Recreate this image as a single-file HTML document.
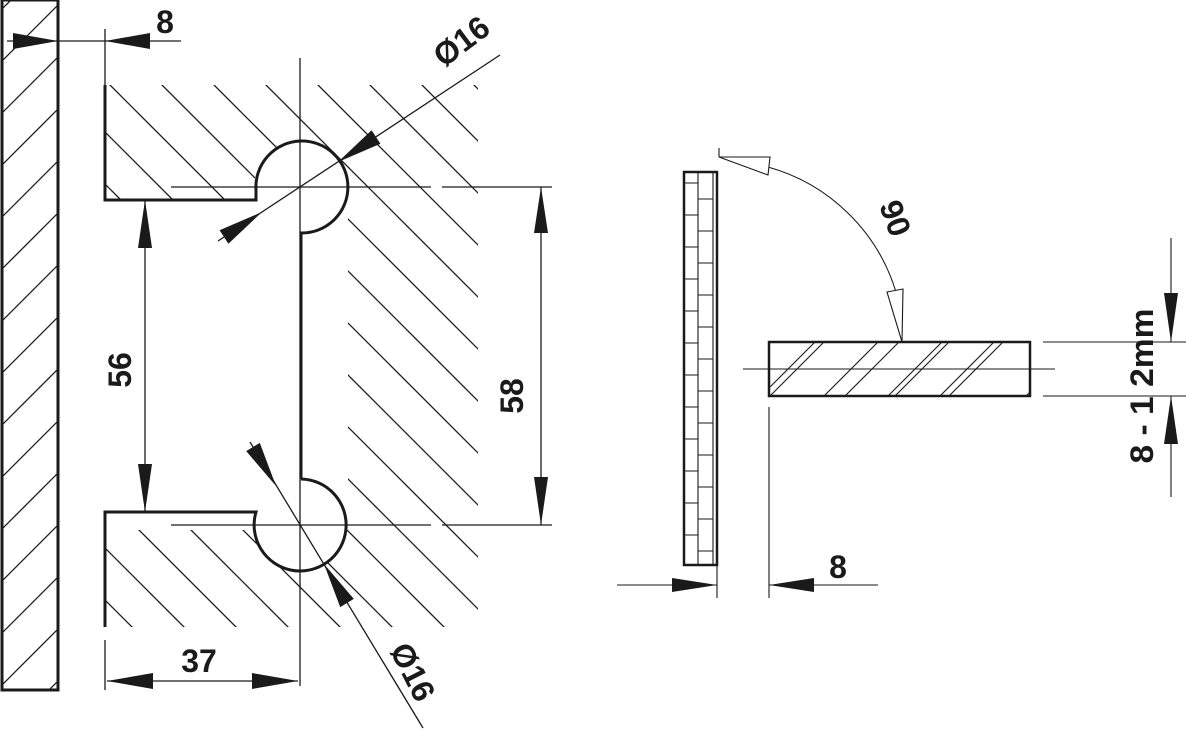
<!DOCTYPE html>
<html><head><meta charset="utf-8"><style>html,body{margin:0;padding:0;background:#fff;overflow:hidden;width:1186px;height:730px}svg{display:block}text{font-family:"Liberation Sans",sans-serif;font-weight:bold;fill:#1a1a1a}</style></head>
<body>
<svg width="1186" height="730" viewBox="0 0 1186 730" xmlns="http://www.w3.org/2000/svg">
<defs>
<clipPath id="plate"><rect x="2" y="0" width="56" height="690"/></clipPath>
<clipPath id="blk"><path d="M105 85H478V200H105Z M348 85H478V627H348Z M105 530H478V627H105Z"/></clipPath>
<clipPath id="bar"><rect x="769" y="342" width="261" height="54"/></clipPath>
</defs>
<g stroke="#1a1a1a" fill="none">
<g clip-path="url(#plate)" stroke-width="1.3">
<line x1="11" y1="0" x2="-730" y2="741"/><line x1="63" y1="0" x2="-730" y2="793"/>
<line x1="115" y1="0" x2="-615" y2="730"/><line x1="167" y1="0" x2="-563" y2="730"/>
<line x1="219" y1="0" x2="-511" y2="730"/><line x1="271" y1="0" x2="-459" y2="730"/>
<line x1="323" y1="0" x2="-407" y2="730"/><line x1="375" y1="0" x2="-355" y2="730"/>
<line x1="427" y1="0" x2="-303" y2="730"/><line x1="479" y1="0" x2="-251" y2="730"/>
<line x1="531" y1="0" x2="-199" y2="730"/><line x1="583" y1="0" x2="-147" y2="730"/>
<line x1="635" y1="0" x2="-95" y2="730"/><line x1="687" y1="0" x2="-43" y2="730"/>
<line x1="739" y1="0" x2="9" y2="730"/><line x1="791" y1="0" x2="61" y2="730"/>
</g>
<rect x="2" y="0" width="56" height="690" stroke-width="3"/>
<g clip-path="url(#blk)" stroke-width="1.3">
<line x1="-495" y1="0" x2="235" y2="730"/><line x1="-443" y1="0" x2="287" y2="730"/>
<line x1="-391" y1="0" x2="339" y2="730"/><line x1="-339" y1="0" x2="391" y2="730"/>
<line x1="-287" y1="0" x2="443" y2="730"/><line x1="-235" y1="0" x2="495" y2="730"/>
<line x1="-183" y1="0" x2="547" y2="730"/><line x1="-131" y1="0" x2="599" y2="730"/>
<line x1="-79" y1="0" x2="651" y2="730"/><line x1="-27" y1="0" x2="703" y2="730"/>
<line x1="25" y1="0" x2="755" y2="730"/><line x1="77" y1="0" x2="807" y2="730"/>
<line x1="129" y1="0" x2="859" y2="730"/><line x1="181" y1="0" x2="911" y2="730"/>
<line x1="233" y1="0" x2="963" y2="730"/><line x1="285" y1="0" x2="1015" y2="730"/>
<line x1="337" y1="0" x2="1067" y2="730"/><line x1="389" y1="0" x2="1119" y2="730"/>
</g>
<circle cx="300" cy="187" r="46" fill="#fff" stroke="none"/>
<circle cx="300" cy="525" r="46" fill="#fff" stroke="none"/>
<rect x="302" y="233" width="44" height="246" fill="#fff" stroke="none"/>
<g stroke-width="1.3">
<line x1="300" y1="58" x2="300" y2="686"/>
<line x1="171" y1="187" x2="431" y2="187"/><line x1="442" y1="187" x2="552" y2="187"/>
<line x1="171" y1="525" x2="431" y2="525"/><line x1="442" y1="525" x2="552" y2="525"/>
<line x1="105" y1="29" x2="105" y2="85"/><line x1="105" y1="640" x2="105" y2="690"/>
</g>
<path d="M105 85V200H256V190A46 46 0 1 1 301 233V479" stroke-width="3"/>
<path d="M105 627V512H256A46 46 0 1 0 301 479" stroke-width="3"/>
<g stroke-width="1.3">
<line x1="7" y1="41" x2="181" y2="41"/>
<line x1="145" y1="200" x2="145" y2="512"/>
<line x1="541" y1="187" x2="541" y2="525"/>
<line x1="107" y1="681" x2="298" y2="681"/>
<line x1="218" y1="241" x2="500" y2="55"/>
<line x1="250" y1="442" x2="423" y2="728"/>
</g>
</g>
<g fill="#1a1a1a">
<polygon points="58,41 13,33 13,49"/><polygon points="105,41 150,33 150,49"/>
<polygon points="145,200 138,248 152,248"/><polygon points="145,512 138,464 152,464"/>
<polygon points="541,187 534,233 548,233"/><polygon points="541,525 534,477 548,477"/>
<polygon points="107,681 153,673 153,689"/><polygon points="298,681 252,673 252,689"/>
<polygon points="338,162 380.4,143.7 371.6,130.3"/><polygon points="262,212 228.4,243.7 219.6,230.3"/>
<polygon points="276,486 259.8,442.9 246.2,451.1"/><polygon points="324,564 353.8,598.9 340.2,607.1"/>
</g>
<text x="165" y="33" font-size="32" text-anchor="middle">8</text>
<text x="0" y="0" font-size="32" text-anchor="middle" transform="translate(131,370) rotate(-90)">56</text>
<text x="0" y="0" font-size="32" text-anchor="middle" transform="translate(523,396) rotate(-90)">58</text>
<text x="199" y="672" font-size="32" text-anchor="middle">37</text>
<text x="0" y="0" font-size="32" text-anchor="middle" transform="translate(468,50) rotate(-37)">Ø16</text>
<text x="0" y="0" font-size="32" text-anchor="middle" transform="translate(403,677) rotate(63)">Ø16</text>

<g stroke="#1a1a1a" fill="none">
<rect x="684" y="172" width="33" height="393" stroke-width="2.5"/>
<g stroke-width="1.1">
<line x1="698" y1="172" x2="698" y2="565"/><line x1="713" y1="172" x2="713" y2="565"/>
<path d="M684 183H698M684 215H698M684 247H698M684 279H698M684 311H698M684 343H698M684 375H698M684 407H698M684 439H698M684 471H698M684 503H698M684 535H698"/>
<path d="M698 199H713M698 231H713M698 263H713M698 295H713M698 327H713M698 359H713M698 391H713M698 423H713M698 455H713M698 487H713M698 519H713M698 551H713"/>
<line x1="717" y1="565" x2="717" y2="598"/>
<line x1="617" y1="585" x2="717" y2="585"/>
<line x1="769" y1="407" x2="769" y2="598"/>
<line x1="769" y1="585" x2="878" y2="585"/>
<line x1="743" y1="369" x2="1055" y2="369"/>
<line x1="1043" y1="342" x2="1186" y2="342"/><line x1="1043" y1="396" x2="1186" y2="396"/>
<line x1="1171" y1="238" x2="1171" y2="342"/><line x1="1171" y1="396" x2="1171" y2="497"/>
<line x1="719" y1="148" x2="719" y2="157"/>
<path d="M768 167A186 186 0 0 1 896 292"/>
</g>
<g clip-path="url(#bar)" stroke-width="1.1">
<line x1="815" y1="342" x2="761" y2="396"/><line x1="824" y1="342" x2="770" y2="396"/>
<line x1="878" y1="342" x2="824" y2="396"/><line x1="899" y1="342" x2="845" y2="396"/>
<line x1="942" y1="342" x2="888" y2="396"/><line x1="949" y1="342" x2="895" y2="396"/>
<line x1="994" y1="342" x2="940" y2="396"/><line x1="1003" y1="342" x2="949" y2="396"/>
<line x1="1040" y1="382" x2="1026" y2="396"/>
</g>
<rect x="769" y="342" width="261" height="54" stroke-width="2.5"/>
<polygon points="719,157 770,157 768,175" fill="#fff" stroke-width="1.1"/>
<polygon points="902,342 887,292 903,289" fill="#fff" stroke-width="1.1"/>
</g>
<g fill="#1a1a1a">
<polygon points="1171,342 1164,293 1178,293"/><polygon points="1171,396 1164,444 1178,444"/>
<polygon points="717,585 672,578 672,592"/><polygon points="769,585 814,578 814,592"/>
</g>
<text x="838" y="578" font-size="32" text-anchor="middle">8</text>
<text x="0" y="0" font-size="32" text-anchor="middle" transform="translate(885,222) rotate(70)">90</text>
<text x="0" y="0" font-size="32" text-anchor="middle" textLength="155" lengthAdjust="spacingAndGlyphs" transform="translate(1153,386) rotate(-90)">8 - 1 2mm</text>
</svg>
</body></html>
